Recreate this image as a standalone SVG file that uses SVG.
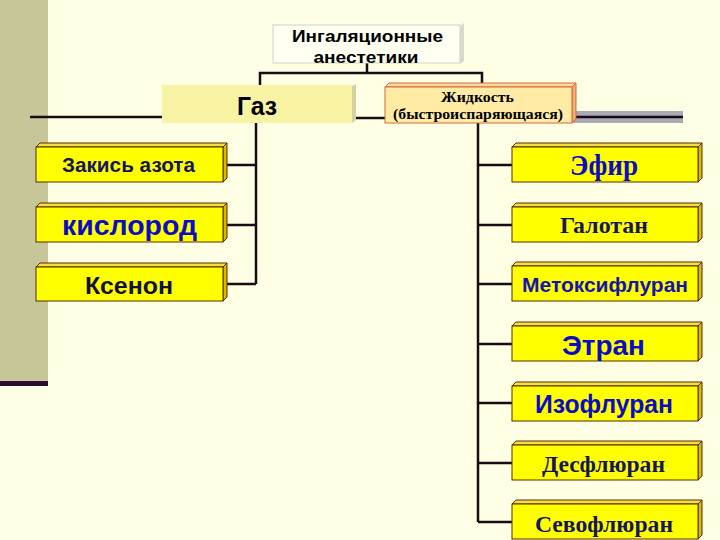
<svg xmlns="http://www.w3.org/2000/svg" width="720" height="540" viewBox="0 0 720 540">
<style>
.face{fill:#FFFF00;stroke:#5A2A00;stroke-width:1}
.top{fill:#F2E040;stroke:#5A2A00;stroke-width:1}
.side{fill:#D4BC00;stroke:#5A2A00;stroke-width:1}
.ln{stroke:#1A0A14;stroke-width:2.5;fill:none}
.sans{font-family:"Liberation Sans",Arial,sans-serif;font-weight:bold;text-anchor:middle}
.serif{font-family:"Liberation Serif","Times New Roman",serif;font-weight:bold;text-anchor:middle}
.navy{fill:#16165E}
.blue{fill:#0C0CC4}
</style>
<rect x="0" y="0" width="720" height="540" fill="#FFFFE6"/>
<rect x="0" y="0" width="48" height="381" fill="#C6C699"/>
<rect x="0" y="381" width="48" height="5" fill="#2C0A32"/>
<rect x="545" y="111" width="138" height="12" fill="#A9A9B4"/>
<g id="connectors">
<path class="ln" d="M367 63V73M260 85V73H482V84"/>
<path class="ln" d="M30 117H162M352 118H385M572 117H683"/>
<path class="ln" d="M256 123V284M227 165H256M227 225H256M227 284H256"/>
<path class="ln" d="M478 123V522M478 165H512M478 225H512M478 284H512M478 344H512M478 403H512M478 463H512M478 522H512"/>
</g>
<g id="title">
<polygon points="460,26 464,23 464,61 460,64" fill="#D8D8CC"/>
<rect x="273" y="25" width="187" height="38" fill="#FFFFF2" stroke="#D2D2C4" stroke-width="1"/>
<text class="sans" x="367.5" y="42" font-size="17" textLength="151" lengthAdjust="spacingAndGlyphs" fill="#000">Ингаляционные</text>
<text class="sans" x="366" y="63" font-size="17" textLength="105" lengthAdjust="spacingAndGlyphs" fill="#000">анестетики</text>
</g>
<g id="gas">
<polygon points="352,86 356,84 356,120 352,123" fill="#D6D2A0"/>
<rect x="162" y="85" width="190" height="38" fill="#F8F3A2"/>
<text class="sans" x="257" y="115" font-size="25" textLength="40" lengthAdjust="spacingAndGlyphs" fill="#000">Газ</text>
</g>
<g id="liquid">
<polygon points="385,87 389,83 576,83 572,87" fill="#F8D8A0" stroke="#D06A3A" stroke-width="1"/>
<polygon points="572,87 576,83 576,119 572,123" fill="#F0B070" stroke="#D06A3A" stroke-width="1"/>
<rect x="385" y="87" width="187" height="36" fill="#FFEBA4" stroke="#D06A3A" stroke-width="1"/>
<text class="serif" x="477.5" y="102" font-size="15.5" textLength="73" lengthAdjust="spacingAndGlyphs" fill="#000">Жидкость</text>
<text class="serif" x="478" y="119" font-size="15.5" textLength="170" lengthAdjust="spacingAndGlyphs" fill="#000">(быстроиспаряющаяся)</text>
</g>
<g id="n2o">
<polygon class="top" points="36,147 40,143 227,143 223,147"/>
<polygon class="side" points="223,147 227,143 227,178 223,182"/>
<rect class="face" x="36" y="147" width="187" height="35"/>
<text class="sans navy" x="128.5" y="172" font-size="21" textLength="133" lengthAdjust="spacingAndGlyphs">Закись азота</text>
</g>
<g id="oxygen">
<polygon class="top" points="36,207 40,203 227,203 223,207"/>
<polygon class="side" points="223,207 227,203 227,238 223,242"/>
<rect class="face" x="36" y="207" width="187" height="35"/>
<text class="sans blue" x="129.5" y="235" font-size="28" textLength="135" lengthAdjust="spacingAndGlyphs">кислород</text>
</g>
<g id="xenon">
<polygon class="top" points="36,267 40,263 227,263 223,267"/>
<polygon class="side" points="223,267 227,263 227,297 223,301"/>
<rect class="face" x="36" y="267" width="187" height="34"/>
<text class="sans" x="129" y="294" font-size="24.5" textLength="88" lengthAdjust="spacingAndGlyphs" fill="#121236">Ксенон</text>
</g>
<g id="ether">
<polygon class="top" points="512,147 516,143 702,143 698,147"/>
<polygon class="side" points="698,147 702,143 702,178 698,182"/>
<rect class="face" x="512" y="147" width="186" height="35"/>
<text class="serif blue" x="604" y="175" font-size="28.5" textLength="68" lengthAdjust="spacingAndGlyphs">Эфир</text>
</g>
<g id="halothane">
<polygon class="top" points="512,207 516,203 702,203 698,207"/>
<polygon class="side" points="698,207 702,203 702,238 698,242"/>
<rect class="face" x="512" y="207" width="186" height="35"/>
<text class="serif navy" x="604" y="233" font-size="24" textLength="88" lengthAdjust="spacingAndGlyphs">Галотан</text>
</g>
<g id="methoxyflurane">
<polygon class="top" points="512,266 516,262 702,262 698,266"/>
<polygon class="side" points="698,266 702,262 702,297 698,301"/>
<rect class="face" x="512" y="266" width="186" height="35"/>
<text class="sans" x="605" y="292" font-size="20.5" textLength="166" lengthAdjust="spacingAndGlyphs" fill="#1414B0">Метоксифлуран</text>
</g>
<g id="enflurane">
<polygon class="top" points="512,326 516,322 702,322 698,326"/>
<polygon class="side" points="698,326 702,322 702,357 698,361"/>
<rect class="face" x="512" y="326" width="186" height="35"/>
<text class="sans blue" x="603.5" y="355" font-size="28.5" textLength="83" lengthAdjust="spacingAndGlyphs">Этран</text>
</g>
<g id="isoflurane">
<polygon class="top" points="512,386 516,382 702,382 698,386"/>
<polygon class="side" points="698,386 702,382 702,417 698,421"/>
<rect class="face" x="512" y="386" width="186" height="35"/>
<text class="sans blue" x="604" y="413" font-size="25" textLength="138" lengthAdjust="spacingAndGlyphs">Изофлуран</text>
</g>
<g id="desflurane">
<polygon class="top" points="512,445 516,441 702,441 698,445"/>
<polygon class="side" points="698,445 702,441 702,476 698,480"/>
<rect class="face" x="512" y="445" width="186" height="35"/>
<text class="serif navy" x="603.5" y="472" font-size="24" textLength="123" lengthAdjust="spacingAndGlyphs">Десфлюран</text>
</g>
<g id="sevoflurane">
<polygon class="top" points="512,504 516,500 702,500 698,504"/>
<polygon class="side" points="698,504 702,500 702,535 698,539"/>
<rect class="face" x="512" y="504" width="186" height="35"/>
<text class="serif navy" x="604" y="532" font-size="24" textLength="138" lengthAdjust="spacingAndGlyphs">Севофлюран</text>
</g>
</svg>
